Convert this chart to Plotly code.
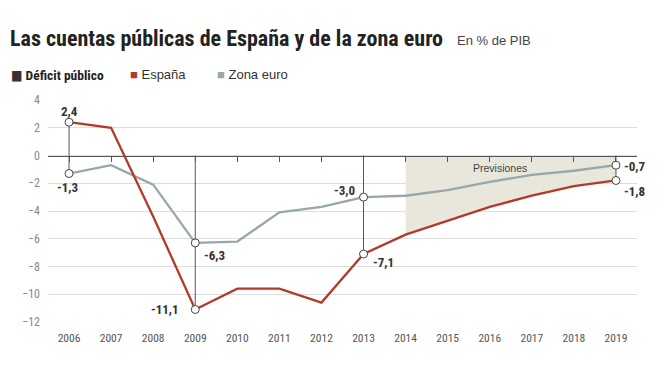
import plotly.graph_objects as go

years = list(range(2006, 2020))
espana = [2.4, 2.0, -4.4, -11.1, -9.6, -9.6, -10.6, -7.1, -5.7, -4.7, -3.7, -2.9, -2.2, -1.8]
zona_euro = [-1.3, -0.7, -2.1, -6.3, -6.2, -4.1, -3.7, -3.0, -2.9, -2.5, -1.9, -1.4, -1.1, -0.7]
forecast_start = 2014
highlight_years = [2006, 2009, 2013, 2019]
y_ticks = list(range(-12, 5, 2))

RED = "#b3392a"
GREY = "#98a8aa"
DARK = "#333333"
FONT = "Liberation Sans Narrow, Noto Sans Condensed, Roboto Condensed, DejaVu Sans Condensed, sans-serif"
FONT_REG = "Liberation Sans, Arial, sans-serif"

def fmt(v):
    return f"{v:.1f}".replace(".", ",")

fig = go.Figure()

# forecast shaded area: between 0 and Spain line
fx = [y for y in years if y >= forecast_start]
fy = [espana[years.index(y)] for y in fx]
fig.add_trace(go.Scatter(
    x=fx + fx[::-1], y=fy + [0] * len(fx), fill="toself", mode="lines",
    line=dict(width=0), fillcolor="#e9e7db", hoverinfo="skip", showlegend=False))

# lines
fig.add_trace(go.Scatter(x=years, y=zona_euro, mode="lines",
                         line=dict(color=GREY, width=2.3), showlegend=False))
fig.add_trace(go.Scatter(x=years, y=espana, mode="lines",
                         line=dict(color=RED, width=2.3), showlegend=False))

# connectors
cx, cy = [], []
for yr in highlight_years:
    i = years.index(yr)
    top = max(0, espana[i], zona_euro[i])
    bot = min(espana[i], zona_euro[i])
    cx += [yr, yr, None]
    cy += [top, bot, None]
fig.add_trace(go.Scatter(x=cx, y=cy, mode="lines",
                         line=dict(color="#555555", width=1), showlegend=False))

# markers
mx, my = [], []
for yr in highlight_years:
    i = years.index(yr)
    mx += [yr, yr]
    my += [espana[i], zona_euro[i]]
fig.add_trace(go.Scatter(x=mx, y=my, mode="markers",
                         marker=dict(size=8, color="white", line=dict(color="#444444", width=1)),
                         showlegend=False))

# value labels
def lab(yr, series, dx, dy, anchor="center"):
    v = series[years.index(yr)]
    fig.add_annotation(x=yr, y=v, text=fmt(v), showarrow=False, xshift=dx, yshift=dy,
                       xanchor=anchor, font=dict(family=FONT, size=13, color=DARK, weight="bold"))

lab(2006, espana, 0, 11)
lab(2006, zona_euro, -2, -14)
lab(2009, zona_euro, 7, -13, "left")
lab(2009, espana, -14, 0, "right")
lab(2013, zona_euro, -7, 7, "right")
lab(2013, espana, 7, -8, "left")
lab(2019, zona_euro, 6, -1, "left")
lab(2019, espana, 6, -11, "left")

fig.add_annotation(x=2016.25, y=-0.9, text="Previsiones", showarrow=False,
                   font=dict(family=FONT_REG, size=10.5, color="#444444"))

# title & legend (figure offset by page margin of 8px)
fig.add_annotation(xref="paper", yref="paper", x=-0.068, y=1.279, xanchor="left", yanchor="middle",
                   text="<b>Las cuentas públicas de España y de la zona euro</b>", showarrow=False,
                   font=dict(family=FONT, size=22, color="#222222"))
fig.add_annotation(xref="paper", yref="paper", x=0.691, y=1.268, xanchor="left", yanchor="middle",
                   text="En % de PIB", showarrow=False,
                   font=dict(family=FONT_REG, size=13, color="#444444"))
fig.add_annotation(xref="paper", yref="paper", x=-0.066, y=1.113, xanchor="left", yanchor="middle",
                   text="<span style='color:#333333'>■</span> <b>Déficit público</b>", showarrow=False,
                   font=dict(family=FONT, size=13.5, color="#222222"))
fig.add_annotation(xref="paper", yref="paper", x=0.136, y=1.113, xanchor="left", yanchor="middle",
                   text=f"<span style='color:{RED}'>■</span> España", showarrow=False,
                   font=dict(family=FONT_REG, size=13, color="#333333"))
fig.add_annotation(xref="paper", yref="paper", x=0.2835, y=1.113, xanchor="left", yanchor="middle",
                   text=f"<span style='color:{GREY}'>■</span> Zona euro", showarrow=False,
                   font=dict(family=FONT_REG, size=13, color="#333333"))

fig.update_layout(
    width=656, height=364,
    margin=dict(l=40, r=27, t=92, b=50),
    plot_bgcolor="white", paper_bgcolor="white",
    font=dict(family=FONT, size=11, color="#777777"),
    xaxis=dict(range=[2005.5, 2019.5], tickvals=years, ticktext=[str(y) for y in years],
               showgrid=False, zeroline=False, showline=False, ticks="",
               ticklabelstandoff=7,
               tickfont=dict(size=11.5, color="#555555")),
    xaxis2=dict(range=[2005.5, 2019.5], overlaying="x", anchor="free",
                position=(0 - y_ticks[0]) / (y_ticks[-1] - y_ticks[0]),
                tickvals=years, showticklabels=False, ticks="outside", ticklen=5,
                tickcolor="#555555", showline=True, linecolor="#555555", linewidth=1,
                showgrid=False, zeroline=False),
    yaxis=dict(range=[y_ticks[0], y_ticks[-1]], tickvals=y_ticks, showgrid=True,
               gridcolor="#dddddd", gridwidth=1, zeroline=False, ticks="",
               ticklabelstandoff=7,
               tickfont=dict(size=12, color="#888888")),
)
# invisible trace to show xaxis2
fig.add_trace(go.Scatter(x=[years[0]], y=[0], xaxis="x2", mode="markers",
                         marker=dict(opacity=0), hoverinfo="skip", showlegend=False))

fig.write_html("out.html")
